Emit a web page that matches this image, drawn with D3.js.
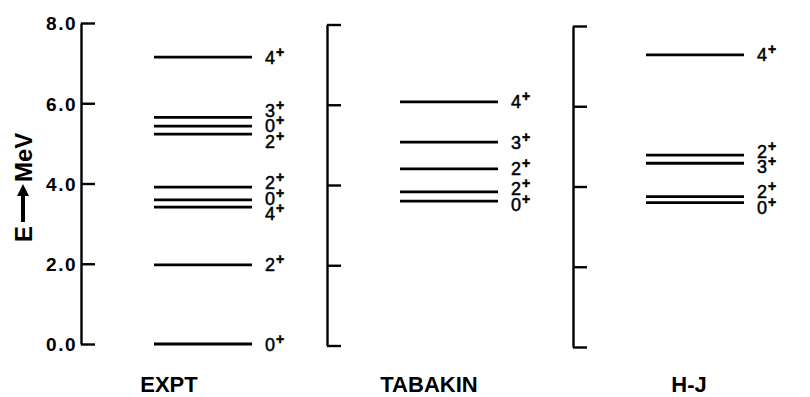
<!DOCTYPE html>
<html>
<head>
<meta charset="utf-8">
<script src="https://cdn.jsdelivr.net/npm/d3@7"></script>
<style>
  html, body { margin: 0; padding: 0; background: #fff; }
  svg { display: block; }
  text { font-family: "Liberation Sans", Arial, sans-serif; fill: #000; }
</style>
</head>
<body>
<svg id="chart" width="810" height="397"></svg>
<script>
// ---- data ----
const panelNames = ["EXPT", "TABAKIN", "H-J"];
const yTicks = [0, 2, 4, 6, 8];
const exptE   = [0.00, 1.97, 3.41, 3.59, 3.91, 5.23, 5.43, 5.65, 7.15];
const exptJ   = ["0", "2", "4", "0", "2", "2", "0", "3", "4"];
const tabakinE = [3.60, 3.83, 4.40, 5.07, 6.07];
const tabakinJ = ["0", "2", "2", "3", "4"];
const hjE     = [3.60, 3.75, 4.58, 4.78, 7.28];
const hjJ     = ["0", "2", "3", "2", "4"];
const parity  = "+";

const levelSets = [
  exptE.map((e, i) => ({ e, j: exptJ[i] })),
  tabakinE.map((e, i) => ({ e, j: tabakinJ[i] })),
  hjE.map((e, i) => ({ e, j: hjJ[i] }))
];

// ---- layout ----
const svg = d3.select("#chart");
const panelX = d3.scaleLinear().domain([0, 1]).range([81, 327]);
const levelOffset = 73, levelWidth = 98, labelGap = 13, minSep = 15.5;

// spread labels that would collide
function spread(ys) {
  const items = ys.map((y, i) => ({ y, i })).sort((a, b) => a.y - b.y);
  let groups = items.map(d => ({ members: [d], center: d.y }));
  let changed = true;
  const top = g => g.center - (g.members.length - 1) * minSep / 2;
  const bot = g => g.center + (g.members.length - 1) * minSep / 2;
  while (changed) {
    changed = false;
    for (let k = 0; k < groups.length - 1; k++) {
      if (top(groups[k + 1]) - bot(groups[k]) < minSep) {
        const m = groups[k].members.concat(groups[k + 1].members);
        groups.splice(k, 2, { members: m, center: d3.mean(m, d => d.y) });
        changed = true;
        break;
      }
    }
  }
  const out = new Array(ys.length);
  groups.forEach(g => g.members.forEach((d, k) => { out[d.i] = top(g) + k * minSep; }));
  return out;
}

panelNames.forEach((name, p) => {
  const ax = panelX(p);
  const y0 = 344 + p * 1.5;
  const y = d3.scaleLinear().domain([0, 8]).range([y0, y0 - 321]);
  const g = svg.append("g");

  // axis line with ticks to the right
  const axis = d3.axisRight(y).tickValues(yTicks).tickSize(14).tickSizeOuter(0).tickFormat("");
  const ag = g.append("g").attr("transform", `translate(${ax},0)`).call(axis);
  ag.select(".domain").attr("stroke", "#000").attr("stroke-width", 2.4);
  ag.selectAll(".tick line").attr("stroke", "#000").attr("stroke-width", 2.4);

  if (p === 0) {
    const lab = d3.axisLeft(y).tickValues(yTicks).tickSize(0).tickPadding(4).tickFormat(d3.format(".1f"));
    const lg = g.append("g").attr("transform", `translate(${ax},0)`).call(lab);
    lg.select(".domain").remove();
    lg.selectAll(".tick text")
      .attr("font-family", "Liberation Sans, Arial, sans-serif")
      .attr("font-size", 19).attr("font-weight", "bold")
      .attr("letter-spacing", "1.5px")
      .attr("dy", "0.36em");
  }

  const levels = levelSets[p];
  const x1 = ax + levelOffset, x2 = x1 + levelWidth;
  g.selectAll("line.level").data(levels).join("line")
    .attr("class", "level")
    .attr("x1", x1).attr("x2", x2)
    .attr("y1", d => y(d.e)).attr("y2", d => y(d.e))
    .attr("stroke", "#000").attr("stroke-width", 2.8);

  const ly = spread(levels.map(d => y(d.e)));
  const t = g.selectAll("text.jlab").data(levels).join("text")
    .attr("class", "jlab")
    .attr("x", x2 + labelGap)
    .attr("y", (d, i) => ly[i] + 6.5)
    .attr("font-size", 18)
    .attr("stroke", "#000").attr("stroke-width", 0.5);
  t.append("tspan").text(d => d.j);
  t.append("tspan").attr("font-size", 14).attr("font-weight", "bold").attr("dy", -7).attr("dx", 1).text(parity);

  // panel title
  g.append("text")
    .attr("x", ax + 88 + p * 14)
    .attr("y", 392)
    .attr("text-anchor", "middle")
    .attr("font-size", 22)
    .attr("font-weight", "bold")
    .text(name);
});

// y-axis title: E -> MeV (rotated)
const yl = svg.append("g").attr("transform", "translate(32,0) rotate(-90)");
yl.append("text").attr("x", -242).attr("y", 0).attr("font-size", 24).attr("font-weight", "bold").text("E");
yl.append("text").attr("x", -182).attr("y", 0).attr("font-size", 24).attr("font-weight", "bold").text("MeV");
svg.append("defs").append("marker")
  .attr("id", "ah").attr("viewBox", "0 0 10 10").attr("refX", 5).attr("refY", 5)
  .attr("markerWidth", 3).attr("markerHeight", 3).attr("orient", "auto")
  .append("path").attr("d", "M0,0L10,5L0,10Z").attr("fill", "#000");
yl.append("line")
  .attr("x1", -222).attr("x2", -190).attr("y1", -9).attr("y2", -9)
  .attr("stroke", "#000").attr("stroke-width", 4).attr("marker-end", "url(#ah)");
</script>
</body>
</html>
